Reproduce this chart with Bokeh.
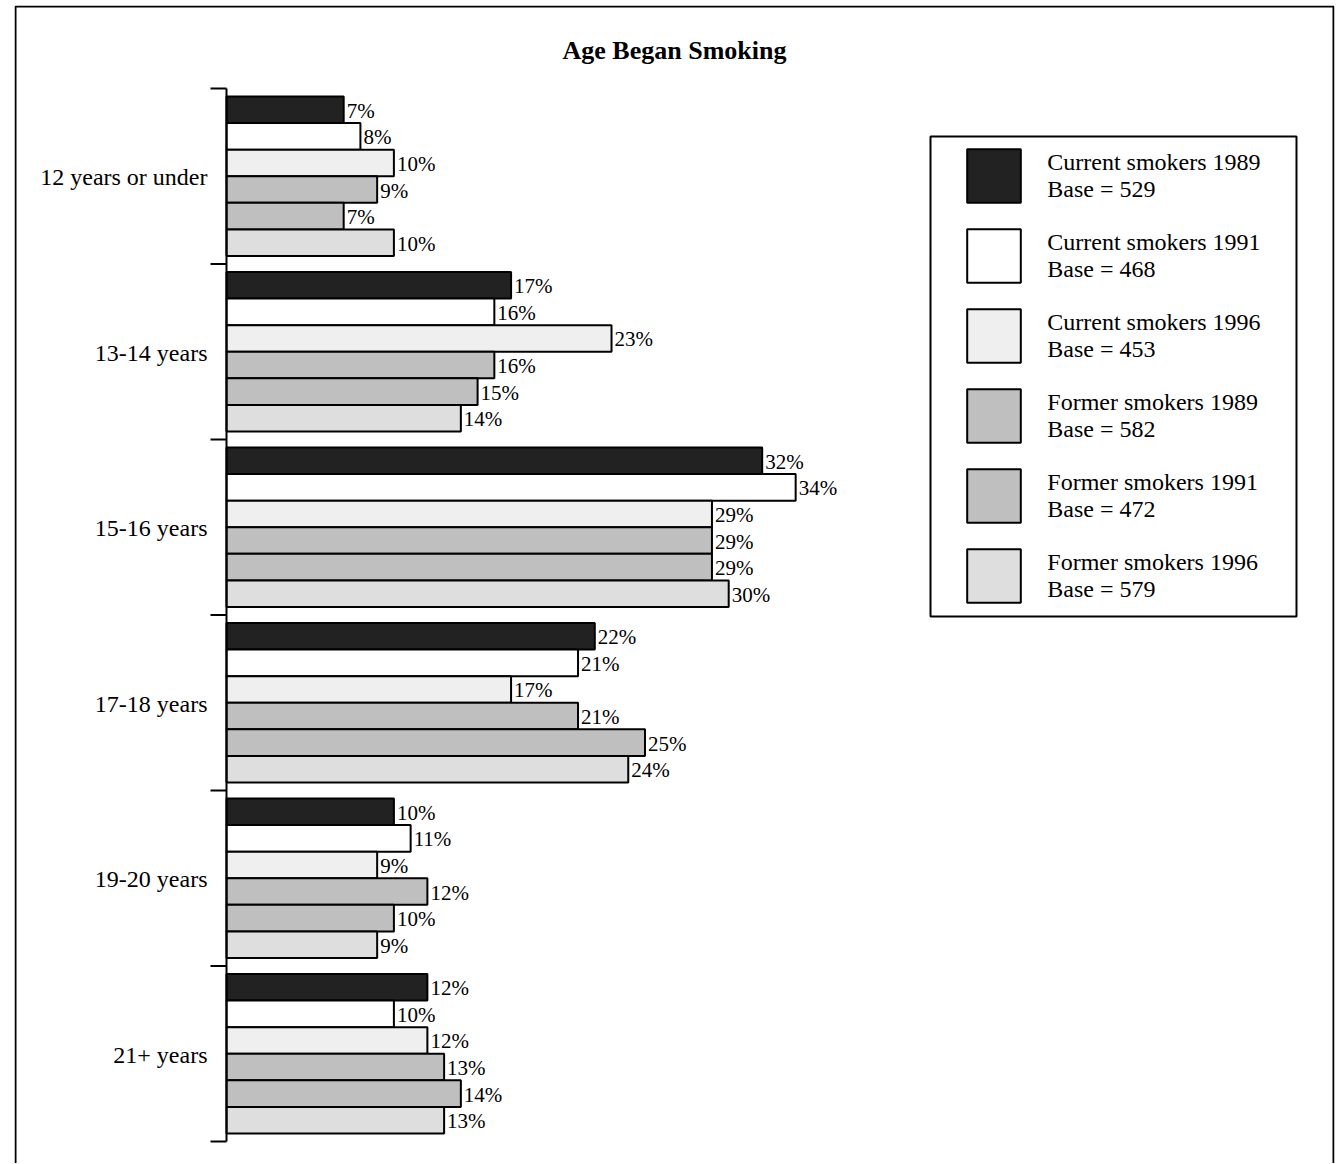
import numpy as np
from bokeh.plotting import figure
from bokeh.models import (Range1d, Legend, LegendItem, BoxAnnotation, Label, ColumnDataSource)
from bokeh.embed import file_html
from bokeh.resources import INLINE

# ---------------- data ----------------
categories = ["12 years or under", "13-14 years", "15-16 years",
              "17-18 years", "19-20 years", "21+ years"]
series_names = ["Current smokers 1989", "Current smokers 1991", "Current smokers 1996",
                "Former smokers 1989", "Former smokers 1991", "Former smokers 1996"]
bases = [529, 468, 453, 582, 472, 579]
current_1989 = [7, 17, 32, 22, 10, 12]
current_1991 = [8, 16, 34, 21, 11, 10]
current_1996 = [10, 23, 29, 17, 9, 12]
former_1989 = [9, 16, 29, 21, 12, 13]
former_1991 = [7, 15, 29, 25, 10, 14]
former_1996 = [10, 14, 30, 24, 9, 13]
series_values = [current_1989, current_1991, current_1996,
                 former_1989, former_1991, former_1996]
colors = ["#222222", "#ffffff", "#efefef", "#bfbfbf", "#bfbfbf", "#dedede"]
title_text = "Age Began Smoking"

# ---------------- layout (pixels) ----------------
W, H = 1338, 1163
BORDER_L, BORDER_R, BORDER_T = 14, 1334, 5      # outer box edges = plot frame edges
ZERO_X = 226          # pixel of 0 %
PX_PER_PCT = 16.74
GROUP_TOP = 88        # pixel of first category boundary
PX_PER_CAT = 175.5
SERIF = "Liberation Serif"


def dx(px):
    return (px - ZERO_X) / PX_PER_PCT


def dy(py):
    return (py - GROUP_TOP) / PX_PER_CAT


p = figure(width=W, height=H, output_backend="svg", toolbar_location=None,
           x_range=Range1d(dx(BORDER_L), dx(BORDER_R)),
           y_range=Range1d(dy(H), dy(BORDER_T)),
           min_border_left=BORDER_L, min_border_right=W - BORDER_R,
           min_border_top=BORDER_T, min_border_bottom=0,
           x_axis_location=None, y_axis_location=None, title_location=None)
p.outline_line_color = None
p.xgrid.visible = False
p.ygrid.visible = False
p.background_fill_color = "white"
p.border_fill_color = "white"

# outer border (open at the bottom, as in the original)
p.add_layout(BoxAnnotation(left=dx(BORDER_L + 1), right=dx(BORDER_R - 1),
                           top=dy(BORDER_T + 1), bottom=dy(H + 20),
                           fill_alpha=0, line_color="black", line_alpha=1.0,
                           line_width=2, level="underlay"))

n_cat = len(categories)
n_ser = len(series_values)
bar_h = 26.6 / PX_PER_CAT
cat_centers = np.arange(n_cat) + 0.5

renderers = []
for j, (vals, col) in enumerate(zip(series_values, colors)):
    ys = cat_centers + (j - (n_ser - 1) / 2) * bar_h
    src = ColumnDataSource(dict(y=ys, right=vals, lab=[f"{v}%" for v in vals]))
    r = p.hbar(y="y", left=0, right="right", height=bar_h, source=src,
               fill_color=col, line_color="black", line_width=2)
    renderers.append(r)
    t = p.text(x="right", y="y", text="lab", source=src, x_offset=3, y_offset=1,
               text_align="left", text_baseline="middle", text_font_size="21px",
               text_color="black")
    t.glyph.text_font = SERIF

# category axis: axis line, boundary ticks, labels at centres
bounds = np.arange(n_cat + 1)
p.segment(x0=[0], y0=[bounds[0]], x1=[0], y1=[bounds[-1]], line_color="black", line_width=2)
tick_len = 16 / PX_PER_PCT
p.segment(x0=[-tick_len] * len(bounds), y0=bounds, x1=[0] * len(bounds), y1=bounds,
          line_color="black", line_width=2)
cat_src = ColumnDataSource(dict(x=[0] * n_cat, y=cat_centers, t=categories))
ct = p.text(x="x", y="y", text="t", source=cat_src, x_offset=-19, y_offset=1,
            text_align="right", text_baseline="middle", text_font_size="24px",
            text_color="black")
ct.glyph.text_font = SERIF

# title
p.add_layout(Label(x=(dx(BORDER_L) + dx(BORDER_R)) / 2, y=dy(50), text=title_text,
                   text_align="center", text_baseline="middle",
                   text_font=SERIF, text_font_size="26px", text_font_style="bold",
                   text_color="black"))

# legend
items = [LegendItem(label=f"{name}\nBase = {b}", renderers=[r])
         for name, b, r in zip(series_names, bases, renderers)]
legend = Legend(items=items, location=(960.3 - BORDER_L, H - 609.3),
                glyph_width=67, glyph_height=67,
                spacing=13, padding=0, margin=0, label_standoff=20,
                label_text_font=SERIF, label_text_font_size="24px",
                label_text_line_height=1.45, label_text_color="black",
                border_line_color=None, background_fill_alpha=0)
p.add_layout(legend)

# legend frame
p.add_layout(BoxAnnotation(left=dx(930), right=dx(1296), top=dy(136), bottom=dy(616),
                           fill_alpha=0, line_color="black", line_alpha=1.0,
                           line_width=2, level="underlay"))

open("out.html", "w").write(file_html(p, INLINE))
